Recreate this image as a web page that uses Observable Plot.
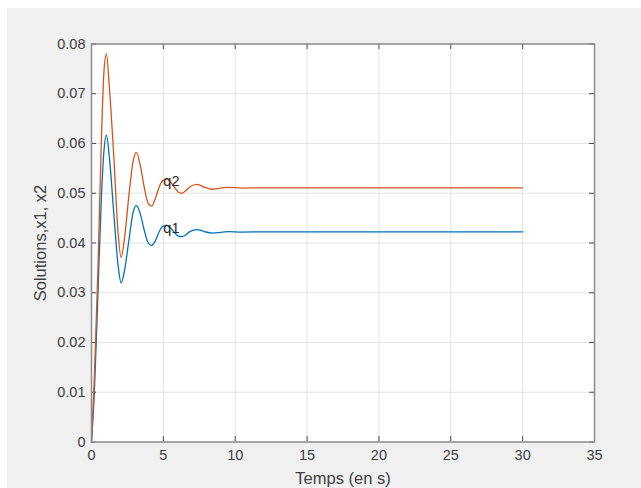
<!DOCTYPE html>
<html>
<head>
<meta charset="utf-8">
<script src="https://cdn.jsdelivr.net/npm/d3@7"></script>
<script src="https://cdn.jsdelivr.net/npm/@observablehq/plot@0.6"></script>
<style>
  html, body { margin: 0; padding: 0; background: #ffffff; }
  #wrap { padding-top: 8px; padding-left: 7px; width: 634px; height: 480px; }
  #chart svg { display: block; background: #f0f0f0; font-family: "Liberation Sans", Arial, sans-serif; }
</style>
</head>
<body>
<div id="wrap"><div id="chart"></div></div>
<script>
// Time samples (s)
const time = [0, 0.2, 0.45, 0.7, 0.88, 1.04, 1.25, 1.55, 1.85, 2.06, 2.3, 2.6, 2.9, 3.13, 3.4, 3.65, 3.95, 4.18, 4.45, 4.7, 4.95, 5.22, 5.5, 5.8, 6.05, 6.3, 6.55, 6.85, 7.35, 7.85, 8.4, 8.9, 9.44, 10.5, 12, 30];
// q1 (blue)
const q1 = [0, 0.010, 0.030, 0.050, 0.059, 0.0617, 0.057, 0.046, 0.0355, 0.0320, 0.0345, 0.0405, 0.0462, 0.0475, 0.0458, 0.0428, 0.0400, 0.0395, 0.0405, 0.0422, 0.0433, 0.0436, 0.0430, 0.0420, 0.0414, 0.0413, 0.0416, 0.0423, 0.0427, 0.0423, 0.0420, 0.0421, 0.0423, 0.0422, 0.04225, 0.04225];
// q2 (orange)
const q2 = [0, 0.013, 0.035, 0.062, 0.075, 0.078, 0.071, 0.0575, 0.042, 0.0371, 0.041, 0.0495, 0.0565, 0.0582, 0.0555, 0.0515, 0.0479, 0.0474, 0.0490, 0.0512, 0.0525, 0.0529, 0.0522, 0.0511, 0.0502, 0.0500, 0.0505, 0.0513, 0.0518, 0.0512, 0.0508, 0.0510, 0.0512, 0.05105, 0.0511, 0.0511];

const seriesNames = ["q1", "q2"];
const seriesColors = ["#0072BD", "#D95319"];
const labelX = [5, 5];
const labelY = [0.0429, 0.0524];

const xTicks = [0, 5, 10, 15, 20, 25, 30, 35];
const yTicks = [0, 0.01, 0.02, 0.03, 0.04, 0.05, 0.06, 0.07, 0.08];
const xLabel = "Temps (en s)";
const yLabel = "Solutions,x1, x2";

const rows = [];
time.forEach((t, i) => {
  rows.push({t, v: q1[i], s: "q1"});
  rows.push({t, v: q2[i], s: "q2"});
});
const labels = seriesNames.map((n, i) => ({n, x: labelX[i], y: labelY[i]}));

const tickColor = "#4d4d4d";
const frameColor = "#8c8c8c";
const textColor = "#404040";

const chart = Plot.plot({
  width: 634,
  height: 480,
  marginLeft: 84,
  marginTop: 35.5,
  marginRight: 47,
  marginBottom: 46.5,
  style: {fontFamily: "Liberation Sans, Arial, sans-serif", fontSize: "14px", background: "#f0f0f0", color: textColor},
  x: {domain: [0, 35], ticks: xTicks},
  y: {domain: [0, 0.08], ticks: yTicks},
  color: {domain: seriesNames, range: seriesColors},
  marks: [
    Plot.frame({fill: "white", stroke: null}),
    Plot.gridX(xTicks, {stroke: "#e3e3e3", strokeOpacity: 1}),
    Plot.gridY(yTicks, {stroke: "#e3e3e3", strokeOpacity: 1}),
    Plot.axisX(xTicks, {tickSize: 0, tickPadding: 8, fontSize: 14.5, fill: textColor,
      label: null, tickFormat: d => String(d)}),
    Plot.axisY(yTicks, {tickSize: 0, tickPadding: 6, fontSize: 14.5, fill: textColor,
      label: null, tickFormat: d => d === 0 ? "0" : d.toFixed(2)}),
    Plot.text([xLabel], {frameAnchor: "bottom", dy: 36.5, lineAnchor: "middle", text: d => d, fontSize: 16.5, fill: textColor}),
    Plot.text([yLabel], {frameAnchor: "left", dx: -51, rotate: -90, lineAnchor: "middle", textAnchor: "middle", text: d => d, fontSize: 16.5, fill: textColor}),
    // inward tick marks on all four sides (MATLAB style)
    Plot.ruleX(xTicks, {x: d => d, y1: 0, y2: 0.0011, stroke: tickColor, strokeWidth: 1}),
    Plot.ruleX(xTicks, {x: d => d, y1: 0.08, y2: 0.0789, stroke: tickColor, strokeWidth: 1}),
    Plot.ruleY(yTicks, {y: d => d, x1: 0, x2: 0.35, stroke: tickColor, strokeWidth: 1}),
    Plot.ruleY(yTicks, {y: d => d, x1: 35, x2: 34.65, stroke: tickColor, strokeWidth: 1}),
    Plot.line(rows, {x: "t", y: "v", z: "s", stroke: "s", strokeWidth: 1.3, curve: "monotone-x"}),
    Plot.text(labels, {x: "x", y: "y", text: "n", textAnchor: "start", fontSize: 14.5, fill: "#262626"}),
    Plot.frame({stroke: frameColor, strokeWidth: 1.5})
  ]
});
document.getElementById("chart").appendChild(chart);
</script>
</body>
</html>
